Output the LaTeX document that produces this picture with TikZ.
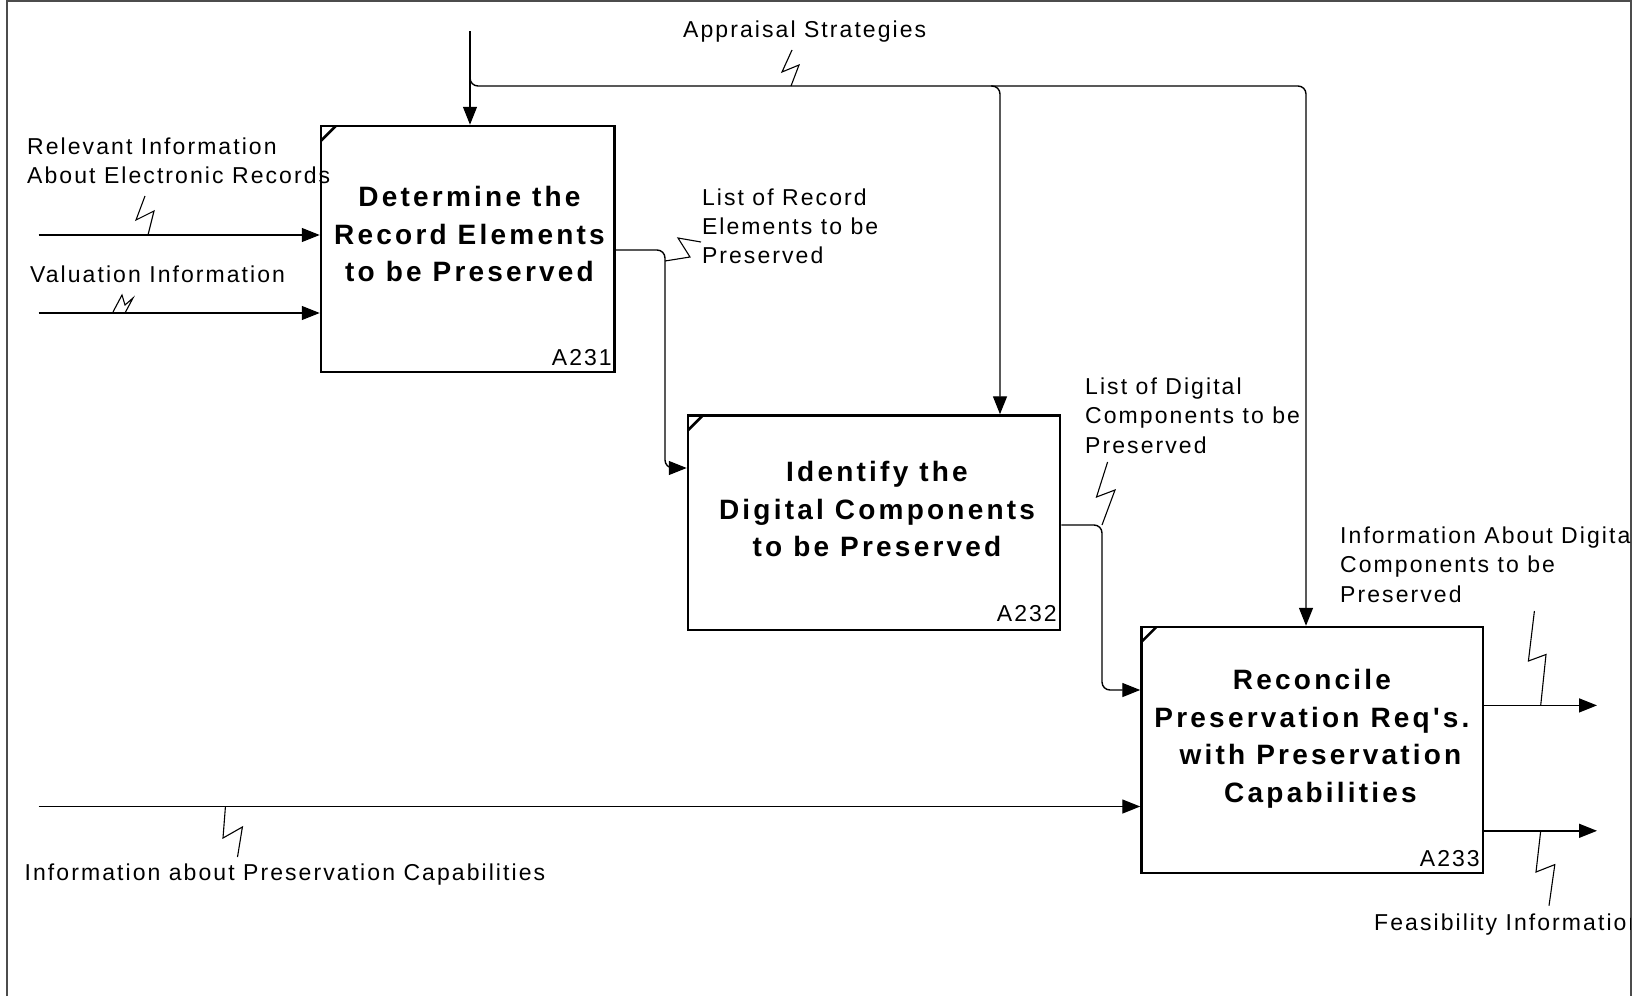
\documentclass[tikz,border=0pt]{standalone}
\usepackage{fontspec}
\setmainfont{Liberation Sans}
\newfontfamily\lblfont{Liberation Sans}[LetterSpace=9]
\newfontfamily\boxfont{Liberation Sans}[LetterSpace=11.5]
\usetikzlibrary{arrows.meta,calc}
\begin{document}
\begin{tikzpicture}[x=1pt,y=-1pt,
  box/.style={draw, line width=2.5pt, inner sep=0pt},
  conn/.style={line width=1.4pt},
  arr/.style={conn, -{Triangle[length=18pt,width=14pt]}},
  sq/.style={line width=1.1pt, line join=miter},
  lbl/.style={font=\lblfont\fontsize{23}{29.3}\selectfont, inner sep=0pt, align=left, anchor=north west},
  btxt/.style={font=\boxfont\bfseries\fontsize{28}{37.5}\selectfont, inner sep=0pt, align=center, anchor=north},
  num/.style={font=\lblfont\fontsize{23}{29.3}\selectfont, inner sep=0pt, anchor=base east},
  corner/.style={line width=2.5pt}]
\useasboundingbox (0,0) rectangle (1633,996);
% frame
\draw[line width=1.5pt, black!70] (7,996) -- (7,1) -- (1631,1) -- (1631,996);

% boxes
\node[box, minimum width=293.5pt, minimum height=246pt] (A231) at (467.75,249) {};
\node[box, minimum width=372pt, minimum height=214.5pt] (A232) at (874,522.75) {};
\node[box, minimum width=341.5pt, minimum height=246pt] (A233) at (1312.25,750) {};
\foreach \b in {A231,A232,A233}
  \draw[corner] ($(\b.north west)+(1.25,16)$) -- ($(\b.north west)+(16,1.25)$);

% box texts
\node[btxt] (t231) at (469.5,180.45) {\strut Determine the\\Record Elements\\to be Preserved};
\node[btxt] (t232) at (877,455.25) {\strut Identify the\\Digital Components\\to be Preserved};
\node[btxt] (t233) at (1312,663.45) {\strut Reconcile\\Preservation Req's.\\\hspace*{17pt}with Preservation\\\hspace*{17pt}Capabilities};
\node[num] (n231) at (612,365) {A231};
\node[num] (n232) at (1057,621.5) {A232};
\node[num] (n233) at (1480,866.4) {A233};

% coordinates
\coordinate (ctop) at (470,31);
\coordinate (cb) at (470,77);
\coordinate (j2) at (1000,86);
\coordinate (j2s) at (991,86);
\coordinate (j3) at (1306,86);
\coordinate (i1) at (38.5,235);
\coordinate (i2) at (38.5,313);
\coordinate (i3) at (38.5,806.5);
\coordinate (k1) at (665,250);
\coordinate (k2) at (665,468);
\coordinate (k3) at (1102,525);
\coordinate (k4) at (1102,690);
\coordinate (o1) at (1597,705.4);
\coordinate (o2) at (1597,830.8);

% connectors
\draw[arr] (ctop) -- (ctop |- A231.north);
\draw[arr, rounded corners=8pt] (cb) |- (j3) -- (j3 |- A233.north);
\draw[arr, rounded corners=8pt] (j2s) -| (j2 |- A232.north);
\draw[arr] (i1) -- (i1 -| A231.west);
\draw[arr] (i2) -- (i2 -| A231.west);
\draw[arr, rounded corners=8pt] (A231.east |- k1) -- (k1) -- (k2) -- (k2 -| A232.west);
\draw[arr, rounded corners=8pt] (A232.east |- k3) -- (k3) -- (k4) -- (k4 -| A233.west);
\draw[arr] (i3) -- (i3 -| A233.west);
\draw[arr] (A233.east |- o1) -- (o1);
\draw[arr] (A233.east |- o2) -- (o2);

% squiggles
\draw[sq] (792,50) -- (782,72) -- (799,65) -- (791,86);
\draw[sq] (145,196) -- (136,220) -- (154,211) -- (148,235);
\draw[sq] (113,312) -- (122,295) -- (125,305) -- (133,298) -- (125,313);
\draw[sq] (701,242) -- (678,238) -- (690,257) -- (665,261);
\draw[sq] (1107.6,462) -- (1096.5,497) -- (1115,490) -- (1102,525);
\draw[sq] (1534.4,611) -- (1528.4,661) -- (1546,654.5) -- (1540.7,705.4);
\draw[sq] (1540.7,830.8) -- (1536,872) -- (1554.8,864.6) -- (1549,905.7);
\draw[sq] (225.4,807) -- (223,838) -- (242.4,827) -- (237.5,857);

% labels
\node[lbl] (lapp) at (683,16.8) {\strut Appraisal Strategies};
\node[lbl] (lrel) at (27,133.5) {\strut Relevant Information\\About Electronic Records};
\node[lbl] (lval) at (29.9,262.2) {\strut Valuation Information};
\node[lbl] (lrec) at (701.8,184.5) {\strut List of Record\\Elements to be\\Preserved};
\node[lbl] (ldig) at (1085,373.8) {\strut List of Digital\\Components to be\\Preserved};
\node[lbl] (lcap) at (24.5,859.5) {\strut Information about Preservation Capabilities};
\begin{scope}
  \clip (0,0) rectangle (1630.5,996);
  \node[lbl] (linf) at (1340,522.9) {\strut Information About Digital\\Components to be\\Preserved};
  \node[lbl] (lfea) at (1374,909.5) {\strut Feasibility Information};
\end{scope}
\end{tikzpicture}
\end{document}
